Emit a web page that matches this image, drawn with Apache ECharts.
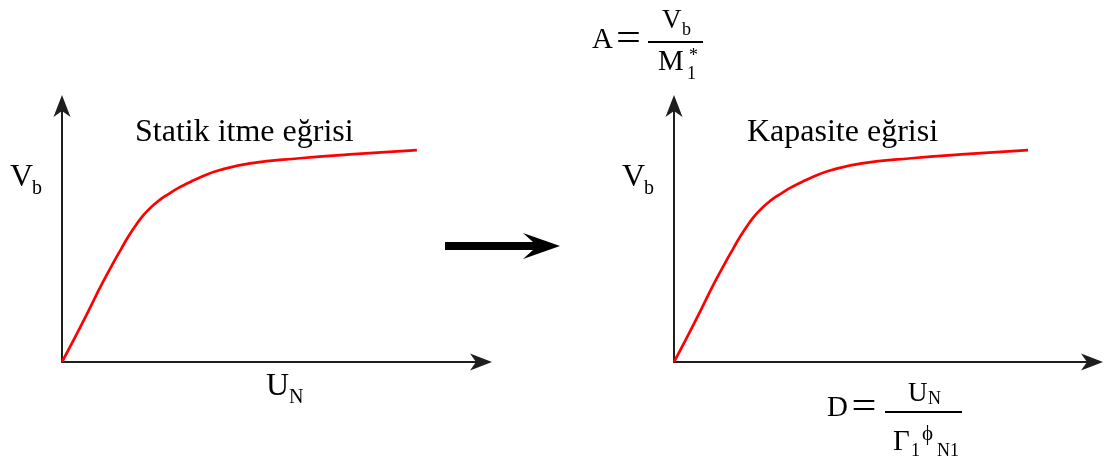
<!DOCTYPE html>
<html>
<head>
<meta charset="utf-8">
<style>
  html, body { margin: 0; padding: 0; background: #fff; }
  #chart { width: 1105px; height: 462px; }
</style>
<script src="https://cdn.jsdelivr.net/npm/echarts@6/dist/echarts.min.js"></script>
</head>
<body>
<div id="chart"></div>
<script>
// Pushover (static push) curve: base shear Vb against roof displacement UN
const pushoverX = [0, 0.31, 0.63, 0.95, 1.26, 1.42, 1.58, 1.74, 1.90, 2.06, 2.22, 2.38, 2.54, 2.78, 3.01, 3.29, 3.77, 4.49, 5.68, 6.87, 8.47];
const pushoverY = [0, 0.96, 1.99, 3.04, 3.98, 4.44, 4.89, 5.29, 5.65, 5.94, 6.18, 6.39, 6.56, 6.80, 6.99, 7.21, 7.50, 7.76, 7.96, 8.11, 8.28];
// Capacity curve: spectral acceleration A against spectral displacement D
const capacityX = [0, 0.31, 0.63, 0.95, 1.26, 1.42, 1.58, 1.74, 1.90, 2.06, 2.22, 2.38, 2.54, 2.78, 3.01, 3.29, 3.77, 4.49, 5.68, 6.87, 8.47];
const capacityY = [0, 0.96, 1.99, 3.04, 3.98, 4.44, 4.89, 5.29, 5.65, 5.94, 6.18, 6.39, 6.56, 6.80, 6.99, 7.21, 7.50, 7.76, 7.96, 8.11, 8.28];
// Curve titles
const curveTitles = ['Statik itme eğrisi', 'Kapasite eğrisi'];

const SERIF = '"Liberation Serif", "Times New Roman", serif';
const INK = '#000';
const AXIS = '#1e1e1e';

const pairs = (xs, ys) => xs.map((x, i) => [x, ys[i]]);

// Barbed arrow head for the axis ends (points up before rotation)
const arrowHead = 'path://M8.5,0 L17,22 L8.5,16 L0,22 Z';

function makeAxis(gridIndex) {
  return {
    type: 'value',
    gridIndex: gridIndex,
    min: 0,
    max: 10,
    axisTick: { show: false },
    axisLabel: { show: false },
    splitLine: { show: false },
    axisLine: {
      show: true,
      symbol: ['none', arrowHead],
      symbolSize: [17, 22],
      lineStyle: { color: AXIS, width: 2 }
    }
  };
}

// Text placed by its baseline (canvas "middle" sits ~0.3375em above the baseline)
function txt(x, baseline, text, size, align) {
  return {
    type: 'text',
    x: x,
    y: baseline - 0.3375 * size,
    style: {
      text: text,
      font: size + 'px ' + SERIF,
      fill: INK,
      align: align || 'left',
      verticalAlign: 'middle'
    }
  };
}

// Wide equals sign, as set by an equation editor
function equals(cx, baseline) {
  const t = txt(cx, baseline, '=', 34, 'center');
  t.scaleX = 1.3;
  t.scaleY = 1.2;
  return t;
}

function hline(x1, x2, y) {
  return { type: 'line', shape: { x1: x1, y1: y, x2: x2, y2: y }, style: { stroke: INK, lineWidth: 2 } };
}

function curve(name, idx, xs, ys) {
  return {
    name: name,
    type: 'line',
    xAxisIndex: idx, yAxisIndex: idx,
    data: pairs(xs, ys),
    smooth: 0.5,
    showSymbol: false,
    lineStyle: { color: '#ff0000', width: 2.7 }
  };
}

const option = {
  backgroundColor: '#fff',
  animation: false,
  grid: [
    { left: 62, top: 106, width: 419, height: 256 },
    { left: 674, top: 106, width: 418, height: 256 }
  ],
  xAxis: [makeAxis(0), makeAxis(1)],
  yAxis: [makeAxis(0), makeAxis(1)],
  series: [
    curve(curveTitles[0], 0, pushoverX, pushoverY),
    curve(curveTitles[1], 1, capacityX, capacityY)
  ],
  graphic: [
    // curve titles
    txt(135, 143.3, curveTitles[0], 32),
    txt(747, 143.3, curveTitles[1], 32),
    // left axis labels
    txt(10, 188, 'V', 32), txt(32, 195, 'b', 20),
    txt(266, 397, 'U', 32), txt(289, 404, 'N', 20),
    // right vertical axis label
    txt(622, 188, 'V', 32), txt(644, 195, 'b', 20),
    // A = Vb / M1*
    txt(592, 50, 'A', 29),
    equals(628.5, 51.5),
    hline(648, 703, 42),
    txt(662, 30, 'V', 27), txt(682, 36, 'b', 18),
    txt(658, 72, 'M', 29), txt(687, 80, '1', 18), txt(689, 62, '*', 18),
    // D = UN / Γ1 ϕN1
    txt(827, 418.3, 'D', 29),
    equals(864, 419.5),
    hline(885, 962, 412),
    txt(908, 403.3, 'U', 27), txt(928, 405, 'N', 18),
    txt(893, 452, 'Γ', 29), txt(911, 457, '1', 18),
    txt(922, 441.5, 'ϕ', 21),
    txt(937, 457, 'N1', 18),
    // transformation arrow between the two plots
    {
      type: 'polygon',
      shape: {
        points: [[445, 242], [533, 242], [523, 233], [560, 246], [523, 259], [533, 250], [445, 250]]
      },
      style: { fill: INK }
    }
  ]
};

const chart = echarts.init(document.getElementById('chart'), null, { renderer: 'canvas' });
chart.setOption(option);
</script>
</body>
</html>
